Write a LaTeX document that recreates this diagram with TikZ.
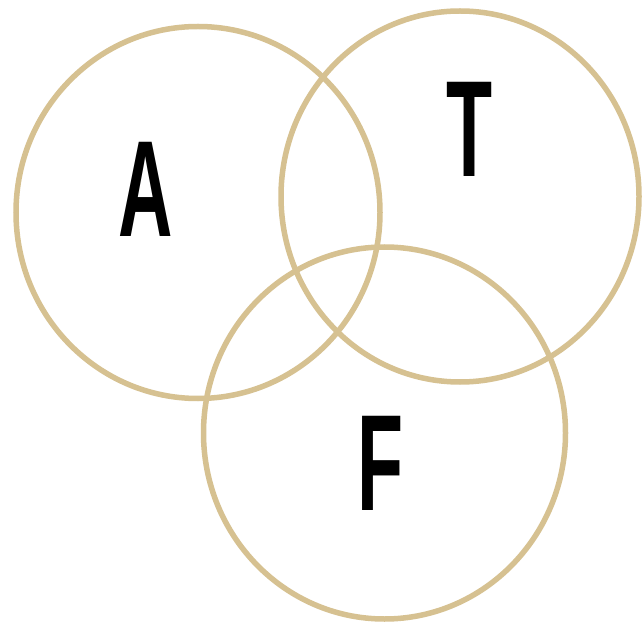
\documentclass[tikz,border=0pt]{standalone}
\usepackage{fontspec}
\setmainfont{Liberation Sans}
\definecolor{ring}{RGB}{214,193,145}
\begin{document}
\begin{tikzpicture}[x=1pt,y=1pt,
  ringstyle/.style={draw=ring,line width=5.5pt},
  letter/.style={inner sep=0pt,anchor=base,font=\fontsize{137}{137}\selectfont\bfseries,xscale=0.55}]
\useasboundingbox (0,0) rectangle (642,627);
\fill[white] (0,0) rectangle (642,627);
\draw[ringstyle] (198,414.5) ellipse [x radius=182, y radius=186];
\draw[ringstyle] (460,430.5) ellipse [x radius=179, y radius=185.5];
\draw[ringstyle] (384.5,194) ellipse [x radius=181, y radius=186];
\node[letter] (a) at (146,390) {A};
\node[letter] (t) at (470,450) {T};
\node[letter] (f) at (381,117) {F};
\end{tikzpicture}
\end{document}
